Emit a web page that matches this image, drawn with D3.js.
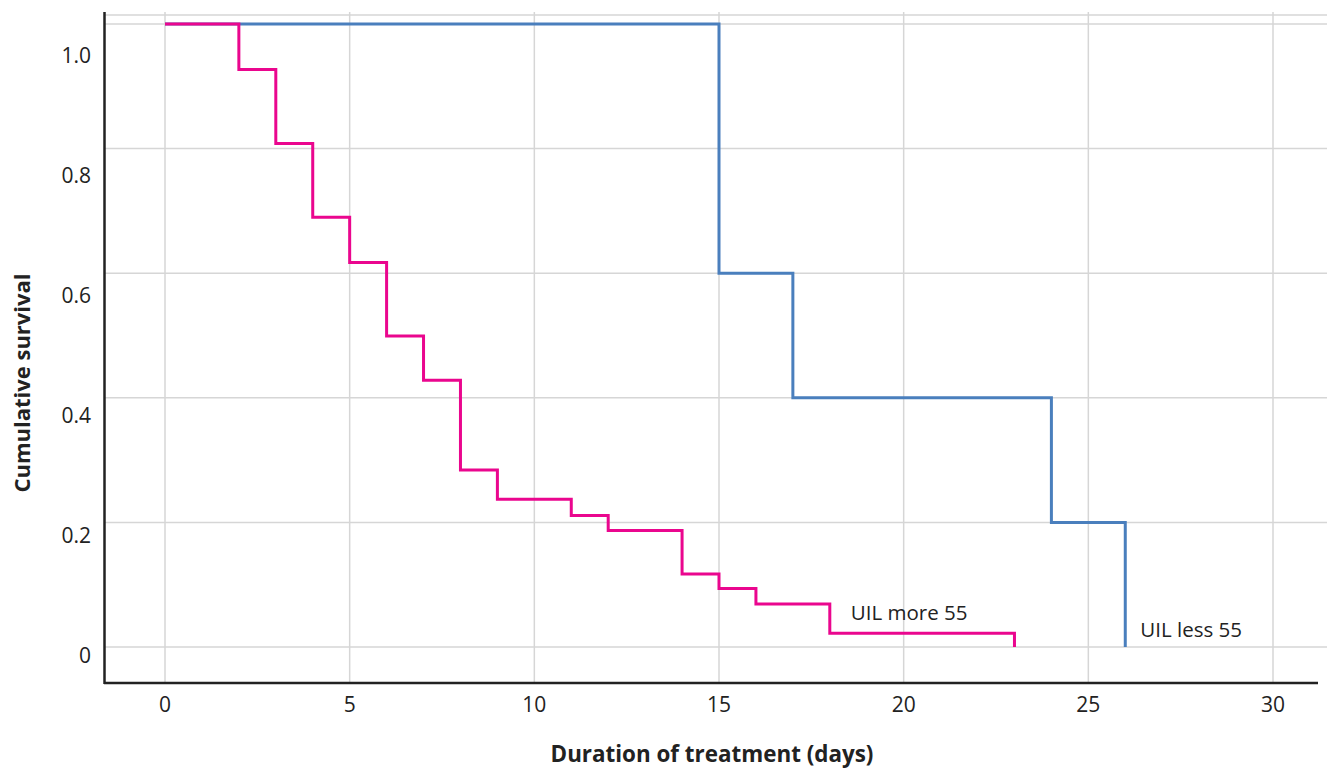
<!DOCTYPE html>
<html>
<head>
<meta charset="utf-8">
<script src="https://cdn.jsdelivr.net/npm/d3@7"></script>
<style>
  body { margin: 0; background: #fff; }
  svg text { font-family: "Open Sans", "Noto Sans", sans-serif; fill: #222; }
</style>
</head>
<body>
<div id="chart"></div>
<script>
/* Step points for each group: day and cumulative survival after that day. */
const moreDays = [0, 2, 3, 4, 5, 6, 7, 8, 9, 11, 12, 14, 15, 16, 18, 23];
const moreSurv = [1.0, 0.927, 0.808, 0.690, 0.617, 0.499, 0.428, 0.284, 0.237, 0.211, 0.187, 0.117, 0.094, 0.069, 0.022, 0];
const lessDays = [0, 15, 17, 24, 26];
const lessSurv = [1.0, 0.6, 0.4, 0.2, 0];

const xTicks = [0, 5, 10, 15, 20, 25, 30];
const yTicks = [0, 0.2, 0.4, 0.6, 0.8, 1.0];
const yTickLabels = ["0", "0.2", "0.4", "0.6", "0.8", "1.0"];

const width = 1327, height = 770;

const svg = d3.select("#chart")
  .append("svg")
  .attr("width", width)
  .attr("height", height);

const x = d3.scaleLinear().domain([0, 30]).range([165, 1273]);
const y = d3.scaleLinear().domain([0, 1]).range([647, 24]);
/* tick labels in the original sit on their own, slightly compressed, spacing */
const yLab = d3.scaleLinear().domain([0, 1]).range([655, 55]);

/* gridlines */
const grid = svg.append("g").attr("stroke", "#d6d6d6").attr("stroke-width", 1.5);
grid.selectAll("line.h")
  .data(yTicks)
  .enter().append("line")
  .attr("x1", 104).attr("x2", width)
  .attr("y1", d => y(d)).attr("y2", d => y(d));
grid.append("line")
  .attr("x1", 104).attr("x2", width)
  .attr("y1", 15).attr("y2", 15);
grid.selectAll("line.v")
  .data(xTicks)
  .enter().append("line")
  .attr("x1", d => x(d)).attr("x2", d => x(d))
  .attr("y1", 12).attr("y2", 683);

/* axes lines */
svg.append("line")
  .attr("x1", 104.5).attr("x2", 104.5)
  .attr("y1", 12).attr("y2", 684)
  .attr("stroke", "#222").attr("stroke-width", 2.5);
svg.append("line")
  .attr("x1", 104).attr("x2", 1318)
  .attr("y1", 683).attr("y2", 683)
  .attr("stroke", "#222").attr("stroke-width", 2.5);

/* tick labels */
svg.selectAll("text.xt")
  .data(xTicks)
  .enter().append("text")
  .attr("x", d => x(d))
  .attr("y", 712)
  .attr("text-anchor", "middle")
  .attr("font-size", 21)
  .text(d => d);
svg.selectAll("text.yt")
  .data(yTicks)
  .enter().append("text")
  .attr("x", 91)
  .attr("y", d => yLab(d) + 7.5)
  .attr("text-anchor", "end")
  .attr("font-size", 21)
  .text((d, i) => yTickLabels[i]);

/* axis titles */
svg.append("text")
  .attr("x", 712).attr("y", 762)
  .attr("text-anchor", "middle")
  .attr("font-size", 22.4)
  .attr("font-weight", "bold")
  .text("Duration of treatment (days)");
svg.append("text")
  .attr("transform", "translate(30,383) rotate(-90)")
  .attr("text-anchor", "middle")
  .attr("font-size", 22)
  .attr("font-weight", "bold")
  .text("Cumulative survival");

/* step curves */
const line = d3.line()
  .x(d => x(d[0]))
  .y(d => y(d[1]))
  .curve(d3.curveStepAfter);

const lessPts = lessDays.map((d, i) => [d, lessSurv[i]]);
const morePts = moreDays.map((d, i) => [d, moreSurv[i]]);

svg.append("path")
  .datum(lessPts)
  .attr("d", line)
  .attr("fill", "none")
  .attr("stroke", "#4a7fbd")
  .attr("stroke-width", 3);
svg.append("path")
  .datum(morePts)
  .attr("d", line)
  .attr("fill", "none")
  .attr("stroke", "#ea068e")
  .attr("stroke-width", 3);

/* series labels */
svg.append("text")
  .attr("x", x(18) + 21).attr("y", y(0.022) - 13)
  .attr("font-size", 20.5)
  .text("UIL more 55");
svg.append("text")
  .attr("x", x(26) + 15).attr("y", y(0) - 10)
  .attr("font-size", 20.5)
  .text("UIL less 55");
</script>
</body>
</html>
